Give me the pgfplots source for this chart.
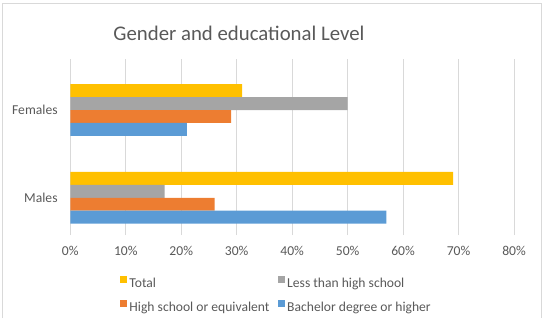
\documentclass[border=0pt]{standalone}
\usepackage{pgfplots}
\pgfplotsset{compat=1.18}
\usepackage{fontspec}
\setmainfont{Carlito}

\definecolor{txt}{HTML}{595959}
\definecolor{gridc}{HTML}{D9D9D9}
\definecolor{frame}{HTML}{D9D9D9}
\definecolor{cTotal}{HTML}{FFC000}
\definecolor{cLess}{HTML}{A5A5A5}
\definecolor{cHigh}{HTML}{ED7D31}
\definecolor{cBach}{HTML}{5B9BD5}

\begin{document}
\begin{tikzpicture}
\useasboundingbox (0,0) rectangle (409.5pt,-238.5pt);
% chart frame
\draw[frame, line width=0.75pt] (1.9pt,-238.5pt) -- (1.9pt,-2.3pt) -- (405.8pt,-2.3pt) -- (405.8pt,-238.5pt);
% title
\node[anchor=base, font=\fontsize{15.6}{18}\selectfont, text=txt, inner sep=0pt] at (179.2pt,-30pt) {Gender and educational Level};

\begin{axis}[
  at={(52.725pt,-176.25pt)}, anchor=south west,
  scale only axis, width=332.8pt, height=132pt,
  xbar, bar width=0.147,
  xmin=0, xmax=80, ymin=-0.424, ymax=1.581,
  xtick={0,10,...,80},
  xticklabel={\pgfmathprintnumber{\tick}\%},
  ytick={0,1}, yticklabels={Males,Females},
  axis line style={draw=none},
  major tick length=0pt,
  xmajorgrids, grid style={color=gridc, line width=0.75pt},
  tick label style={font=\fontsize{10.2}{12}\selectfont, text=txt},
  xticklabel style={yshift=-5pt},
  yticklabel style={xshift=-6pt},
  /pgf/number format/assume math mode=true,
  legend columns=2,
  legend cell align=left,
  legend image code/.code={\fill[#1] (0pt,0.5pt) rectangle (5.25pt,5.75pt);},
  legend style={
    at={(axis description cs:0.111,-0.228)}, anchor=north west,
    draw=none, fill=none, inner sep=0pt,
    font=\fontsize{10.2}{12}\selectfont, text=txt,
    nodes={inner sep=2pt},
    row sep=5.5pt,
    /tikz/every even column/.append style={column sep=4pt},
  },
]
% categories: 0 = Males, 1 = Females
\addplot[fill=cTotal, draw=none, bar shift=0.2205] coordinates {(69,0) (31,1)};
\addplot[fill=cLess,  draw=none, bar shift=0.0735] coordinates {(17,0) (50,1)};
\addplot[fill=cHigh,  draw=none, bar shift=-0.0735] coordinates {(26,0) (29,1)};
\addplot[fill=cBach,  draw=none, bar shift=-0.2205] coordinates {(57,0) (21,1)};
\legend{Total, Less than high school, High school or equivalent, Bachelor degree or higher}
\end{axis}
\end{tikzpicture}
\end{document}
